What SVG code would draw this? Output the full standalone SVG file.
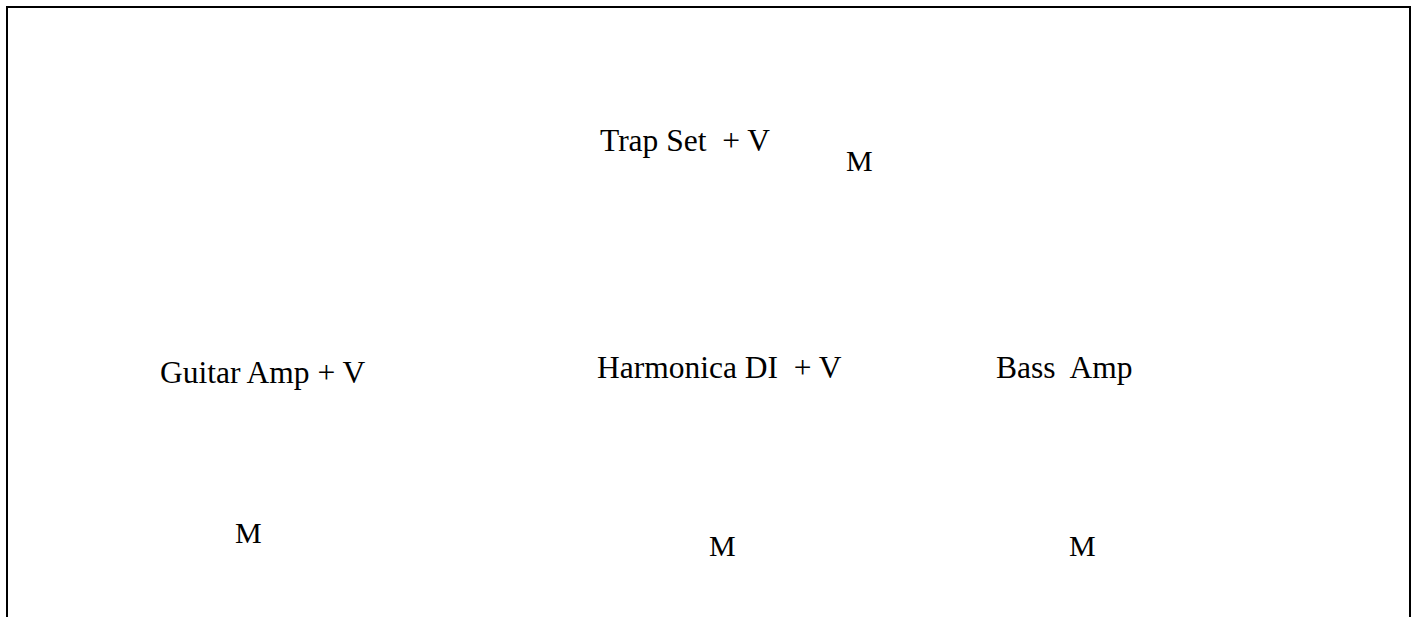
<svg xmlns="http://www.w3.org/2000/svg" width="1416" height="617" viewBox="0 0 1416 617" xml:space="preserve">
<style>
text { font-family: "Liberation Serif", "Times New Roman", serif; font-size: 31.5px; fill: #000; white-space: pre; }
text.m { font-size: 30px; }
.frame { fill: none; stroke: #000; stroke-width: 2; }
</style>
<rect width="1416" height="617" fill="#fff"/>
<path class="frame" d="M7,617 V7 H1410 V617"/>
<g id="connectors"></g>
<g id="trapset"><text x="600" y="151">Trap Set  + V</text></g>
<g id="trapset-mic"><text class="m" x="846" y="171">M</text></g>
<g id="guitar-amp"><text x="160" y="383">Guitar Amp + V</text></g>
<g id="harmonica-di"><text x="597" y="378">Harmonica DI  + V</text></g>
<g id="bass-amp"><text x="996" y="378">Bass  Amp</text></g>
<g id="guitar-mic"><text class="m" x="235" y="543">M</text></g>
<g id="harmonica-mic"><text class="m" x="709" y="556">M</text></g>
<g id="bass-mic"><text class="m" x="1069" y="556">M</text></g>
</svg>
